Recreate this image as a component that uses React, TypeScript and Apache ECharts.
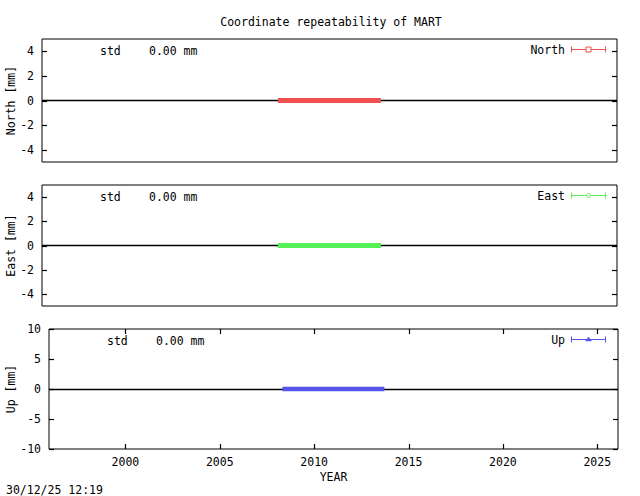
import React, { useEffect, useRef } from 'react';
import * as echarts from 'echarts';

// observation span (decimal years) and the coordinate residuals [mm]
const epochs = [2008.32, 2013.72];
const northValues = [0, 0];
const eastValues = [0, 0];
const upValues = [0, 0];
const stdValues = ['0.00', '0.00', '0.00'];

const yearTicks = [2000, 2005, 2010, 2015, 2020, 2025];
const horizTicks = [-4, -2, 0, 2, 4];
const upTicks = [-10, -5, 0, 5, 10];

const FONT = 'DejaVu Sans Mono';
const FS = 11.5;
const X_MIN = 1995.95;
const X_MAX = 2026.1;

const App: React.FC = () => {
  const chartRef = useRef<HTMLDivElement>(null);

  useEffect(() => {
    const chart = echarts.init(chartRef.current!, null, { renderer: 'svg' });

    const panels = [
      { name: 'North', values: northValues, color: '#f05050', ticks: horizTicks, min: -5, max: 5, width: 5 },
      { name: 'East', values: eastValues, color: '#55f055', ticks: horizTicks, min: -5, max: 5, width: 5 },
      { name: 'Up', values: upValues, color: '#5555ee', ticks: upTicks, min: -10, max: 10, width: 4.5 }
    ];

    const grids = [
      { left: 42, top: 39, width: 575, height: 123 },
      { left: 42, top: 185, width: 575, height: 121 },
      { left: 49, top: 329, width: 569, height: 120 }
    ];

    const txt = { fontFamily: FONT, fontSize: FS, color: '#000' };
    const noLine = { show: false, onZero: false };
    const font = `${FS}px "${FONT}"`;

    const xAxis: any[] = [];
    const yAxis: any[] = [];
    const series: any[] = [];
    const graphic: any[] = [];

    panels.forEach((p, i) => {
      const last = i === panels.length - 1;
      xAxis.push({
        type: 'value',
        gridIndex: i,
        min: X_MIN,
        max: X_MAX,
        position: 'bottom',
        axisLine: noLine,
        splitLine: { show: false },
        axisTick: { show: false },
        axisLabel: last
          ? { show: true, customValues: yearTicks, margin: 7, formatter: (v: number) => String(v), ...txt }
          : { show: false },
        name: last ? 'YEAR' : '',
        nameLocation: 'middle',
        nameGap: 22,
        nameTextStyle: txt
      });
      yAxis.push({
        type: 'value',
        gridIndex: i,
        min: p.min,
        max: p.max,
        position: 'left',
        axisLine: noLine,
        splitLine: { show: false },
        axisTick: { show: false },
        axisLabel: { show: true, customValues: p.ticks, margin: 8, ...txt }
      });

      series.push({
        name: p.name,
        type: 'line',
        xAxisIndex: i,
        yAxisIndex: i,
        data: epochs.map((t, k) => [t, p.values[k]]),
        showSymbol: false,
        symbol: 'none',
        z: 3,
        lineStyle: { color: p.color, width: p.width, cap: 'butt' },
        markLine: {
          silent: true,
          z: 1,
          symbol: 'none',
          label: { show: false },
          lineStyle: { color: '#000', width: 1.3, type: 'solid' },
          data: [{ yAxis: 0 }]
        }
      });

      const g = grids[i];
      const cy = g.top + 10.5;
      // y-axis title
      graphic.push({
        type: 'text',
        x: 11,
        y: g.top + g.height / 2,
        rotation: Math.PI / 2,
        style: { text: `${p.name} [mm]`, font, fill: '#000', textAlign: 'center', textVerticalAlign: 'middle' }
      });
      // std annotation
      graphic.push({
        type: 'text',
        x: g.left + 58,
        y: g.top + 12,
        style: { text: 'std', font, fill: '#000', textAlign: 'left', textVerticalAlign: 'middle' }
      });
      graphic.push({
        type: 'text',
        x: g.left + 107,
        y: g.top + 12,
        style: { text: `${stdValues[i]} mm`, font, fill: '#000', textAlign: 'left', textVerticalAlign: 'middle' }
      });
      // key
      graphic.push({
        type: 'text',
        x: 565,
        y: cy,
        style: { text: p.name, font, fill: '#000', textAlign: 'right', textVerticalAlign: 'middle' }
      });
      const ls = { stroke: p.color, lineWidth: 1 };
      graphic.push({ type: 'line', shape: { x1: 571, y1: cy, x2: 606, y2: cy }, style: ls });
      graphic.push({ type: 'line', shape: { x1: 571.5, y1: cy - 3, x2: 571.5, y2: cy + 3 }, style: ls });
      graphic.push({ type: 'line', shape: { x1: 605.5, y1: cy - 3, x2: 605.5, y2: cy + 3 }, style: ls });
      if (i === 0) {
        graphic.push({
          type: 'rect',
          shape: { x: 586, y: cy - 2.5, width: 5, height: 5 },
          style: { stroke: p.color, fill: '#fff', lineWidth: 1 }
        });
      } else if (i === 1) {
        graphic.push({
          type: 'circle',
          shape: { cx: 588.5, cy, r: 2 },
          style: { stroke: p.color, fill: '#fff', lineWidth: 1 }
        });
      } else {
        graphic.push({
          type: 'polygon',
          shape: { points: [[588.5, cy - 2.5], [591.5, cy + 1.5], [585.5, cy + 1.5]] },
          style: { fill: p.color, stroke: p.color, lineWidth: 0.5 }
        });
      }
    });

    graphic.push({
      type: 'text',
      x: 331,
      y: 22,
      style: {
        text: 'Coordinate repeatability of MART',
        font,
        fill: '#000',
        textAlign: 'center',
        textVerticalAlign: 'middle'
      }
    });
    graphic.push({
      type: 'text',
      x: 6,
      y: 490,
      style: { text: '30/12/25 12:19', font, fill: '#000', textAlign: 'left', textVerticalAlign: 'middle' }
    });

    chart.setOption({
      animation: false,
      backgroundColor: '#fff',
      grid: grids.map((g) => ({ ...g, show: true, borderColor: '#000', borderWidth: 1, backgroundColor: 'transparent' })),
      xAxis,
      yAxis,
      series,
      graphic
    });

    // gnuplot-style inward (mirrored) tick marks, placed through each panel's scales
    const ticks: any[] = [];
    const tickStyle = { stroke: '#000', lineWidth: 1.2 };
    const T = 5;
    panels.forEach((p, i) => {
      const g = grids[i];
      const l = g.left;
      const r = g.left + g.width;
      p.ticks.forEach((v) => {
        const pt = chart.convertToPixel({ seriesIndex: i }, [X_MIN, v]) as number[] | undefined;
        if (!pt || !isFinite(pt[1])) return;
        const y = Math.round(pt[1]) + 0.5;
        ticks.push({ type: 'line', z: 10, shape: { x1: l, y1: y, x2: l + T, y2: y }, style: tickStyle });
        ticks.push({ type: 'line', z: 10, shape: { x1: r - T, y1: y, x2: r, y2: y }, style: tickStyle });
      });
      if (i === panels.length - 1) {
        yearTicks.forEach((v) => {
          const pt = chart.convertToPixel({ seriesIndex: i }, [v, 0]) as number[] | undefined;
          if (!pt || !isFinite(pt[0])) return;
          const x = Math.round(pt[0]) + 0.5;
          const b = g.top + g.height;
          ticks.push({ type: 'line', z: 10, shape: { x1: x, y1: b, x2: x, y2: b - T }, style: tickStyle });
          ticks.push({ type: 'line', z: 10, shape: { x1: x, y1: g.top, x2: x, y2: g.top + T }, style: tickStyle });
        });
      }
    });
    chart.setOption({ graphic: { elements: graphic.concat(ticks) } });

    return () => {
      chart.dispose();
    };
  }, []);

  return (
    <div
      ref={chartRef}
      style={{ position: 'fixed', left: 0, top: 0, width: '640px', height: '496px' }}
    ></div>
  );
};

export default App;
